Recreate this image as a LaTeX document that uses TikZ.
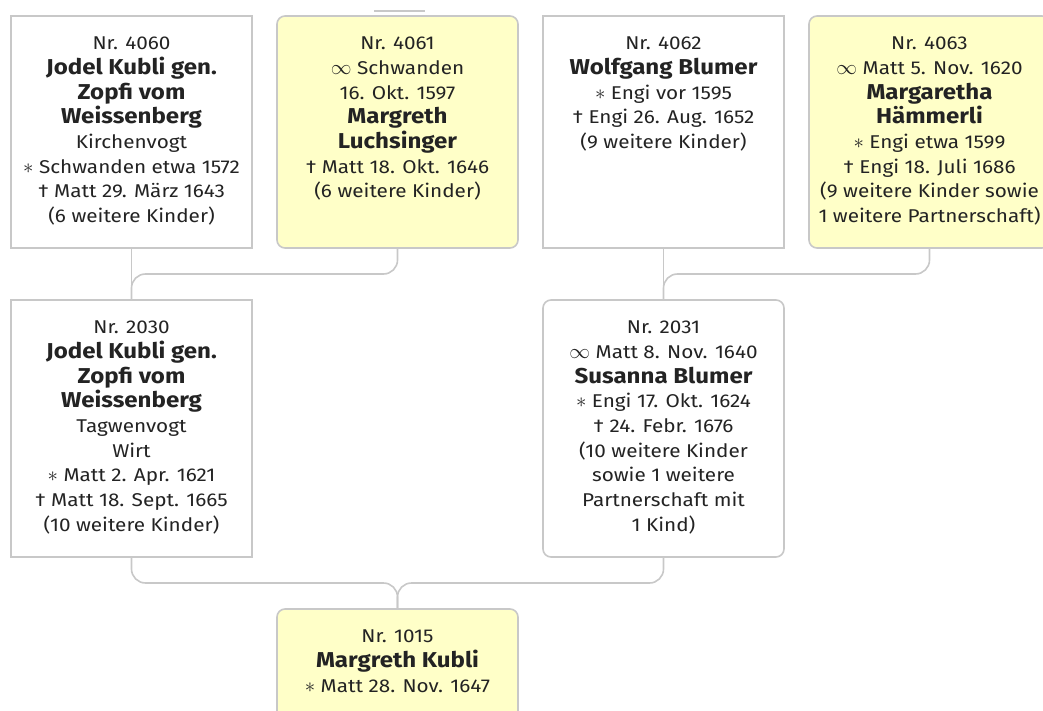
\documentclass[tikz,border=0pt]{standalone}
\usepackage{fontspec}
\setmainfont[FakeStretch=1.12]{Fira Sans}
\usetikzlibrary{positioning}
\definecolor{framegray}{RGB}{200,200,200}
\definecolor{wifefill}{RGB}{255,255,200}
\definecolor{inkgray}{RGB}{35,35,35}
\newcommand{\famcard}[2]{\parbox[c][#1][t]{241pt}{\centering\fontsize{18.5}{24.7}\selectfont\vspace*{21pt}#2}}
\newcommand{\nm}[1]{{\fontsize{21.5}{24.7}\selectfont\bfseries #1}}
\newcommand{\born}{{\fontsize{21}{24.7}\selectfont$\ast$}}
\newcommand{\wed}{{\fontsize{20}{24.7}\selectfont$\infty$}}
\tikzset{
  card/.style   = { draw=framegray, line width=1.6pt, inner sep=0pt, outer sep=0pt, anchor=north, text=inkgray },
  male/.style   = { card, fill=white },
  female/.style = { card, rounded corners=8pt, fill=#1 },
  female/.default = white,
  link/.style   = { draw=framegray, line width=1.6pt, rounded corners=14pt }
}

\begin{document}
\begin{tikzpicture}[node distance=25pt]
  \useasboundingbox (0,0) rectangle (1043pt,-711pt);
  \clip (0,0) rectangle (1043pt,-711pt);
  % grandparents
  \node[male] (p4060) at (131.5pt,-16pt) {\famcard{232pt}{Nr. 4060\\
    \nm{Jodel Kubli gen.\\ Zopfi vom\\ Weissenberg}\\ Kirchenvogt\\
    \born{} Schwanden etwa 1572\\ † Matt 29. März 1643\\ (6 weitere Kinder)}};
  \node[female=wifefill, right=of p4060] (p4061) {\famcard{232pt}{Nr. 4061\\
    \wed{} Schwanden\\ 16. Okt. 1597\\ \nm{Margreth\\ Luchsinger}\\
    † Matt 18. Okt. 1646\\ (6 weitere Kinder)}};
  \node[male, right=of p4061] (p4062) {\famcard{232pt}{Nr. 4062\\
    \nm{Wolfgang Blumer}\\ \born{} Engi vor 1595\\ † Engi 26. Aug. 1652\\
    (9 weitere Kinder)}};
  \node[female=wifefill, right=of p4062] (p4063) {\famcard{232pt}{Nr. 4063\\
    \wed{} Matt 5. Nov. 1620\\ \nm{Margaretha\\ Hämmerli}\\
    \born{} Engi etwa 1599\\ † Engi 18. Juli 1686\\
    (9 weitere Kinder sowie\\ 1 weitere Partnerschaft)}};
  % parents
  \node[male, below=52pt of p4060] (p2030) {\famcard{257pt}{Nr. 2030\\
    \nm{Jodel Kubli gen.\\ Zopfi vom\\ Weissenberg}\\ Tagwenvogt\\ Wirt\\
    \born{} Matt 2. Apr. 1621\\ † Matt 18. Sept. 1665\\ (10 weitere Kinder)}};
  \node[female, below=52pt of p4062] (p2031) {\famcard{257pt}{Nr. 2031\\
    \wed{} Matt 8. Nov. 1640\\ \nm{Susanna Blumer}\\
    \born{} Engi 17. Okt. 1624\\ † 24. Febr. 1676\\ (10 weitere Kinder\\
    sowie 1 weitere\\ Partnerschaft mit\\ 1 Kind)}};
  % proband
  \coordinate (mid) at (p2030.south -| p4061.south);
  \node[female=wifefill, below=52pt of mid] (p1015) {\famcard{120pt}{Nr. 1015\\
    \nm{Margreth Kubli}\\ \born{} Matt 28. Nov. 1647}};
  \coordinate (stubL) at (374pt,-11pt);
  \coordinate (stubR) at (425pt,-11pt);

  \path[link] (p4060.south) -- (p2030.north);
  \path[link] (p4061.south) -- ++(0,-26pt) -| (p2030.north);
  \path[link] (p4062.south) -- (p2031.north);
  \path[link] (p4063.south) -- ++(0,-26pt) -| (p2031.north);
  \path[link] (p2030.south) -- ++(0,-26pt) -| (p1015.north);
  \path[link] (p2031.south) -- ++(0,-26pt) -| (p1015.north);
  \path[link] (stubL) -- (stubR);
\end{tikzpicture}
\end{document}
